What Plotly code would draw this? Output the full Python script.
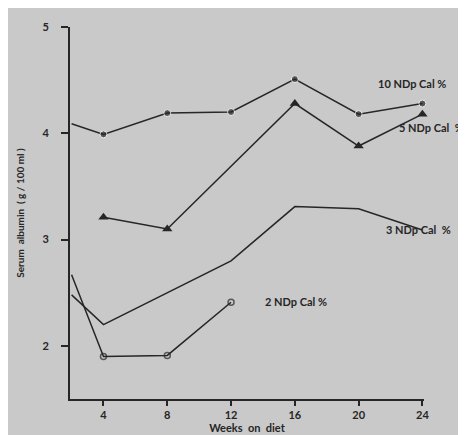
import plotly.graph_objects as go

weeks_10 = [2, 4, 8, 12, 16, 20, 24]
alb_10 = [4.09, 3.99, 4.19, 4.20, 4.51, 4.18, 4.28]

weeks_5 = [4, 8, 16, 20, 24]
alb_5 = [3.21, 3.10, 4.28, 3.88, 4.18]

weeks_3 = [2, 4, 12, 16, 20, 24]
alb_3 = [2.48, 2.20, 2.80, 3.31, 3.29, 3.09]

weeks_2 = [2, 4, 8, 12]
alb_2 = [2.67, 1.90, 1.91, 2.41]

x_ticks = [4, 8, 12, 16, 20, 24]
y_ticks = [2, 3, 4, 5]

labels = ["10 NDp Cal %", "5 NDp Cal  %", "3 NDp Cal  %", "2 NDp Cal %"]

INK = "#262626"
BG = "#c9c9c9"
FONT = "Lato, 'DejaVu Sans', sans-serif"

fig = go.Figure()

fig.add_trace(go.Scatter(
    x=weeks_10, y=alb_10, mode="lines+markers",
    line=dict(color=INK, width=1.5),
    marker=dict(symbol="circle", size=[0] + [7] * (len(weeks_10) - 1), color=INK),
    showlegend=False, cliponaxis=False))
fig.add_trace(go.Scatter(
    x=weeks_5, y=alb_5, mode="lines+markers",
    line=dict(color=INK, width=1.5),
    marker=dict(symbol="triangle-up", size=9, color=INK),
    showlegend=False, cliponaxis=False))
fig.add_trace(go.Scatter(
    x=weeks_3, y=alb_3, mode="lines",
    line=dict(color=INK, width=1.5),
    showlegend=False, cliponaxis=False))
fig.add_trace(go.Scatter(
    x=weeks_2, y=alb_2, mode="lines+markers",
    line=dict(color=INK, width=1.5),
    marker=dict(symbol="circle-open", size=[0] + [6] * (len(weeks_2) - 1),
                color=INK, line=dict(width=1.5, color=INK)),
    showlegend=False, cliponaxis=False))

# series labels (paper coordinates)
label_pos = [(404, 74), (423, 120), (410, 226), (288, 300)]
for text, (px, py) in zip(labels, label_pos):
    fig.add_annotation(text=text, xref="paper", yref="paper",
                       x=(px - 62) / 354, y=1 - (py - 16) / 385,
                       showarrow=False, xanchor="center", yanchor="middle",
                       font=dict(family=FONT, size=11, color=INK, weight=700))

fig.update_layout(
    width=466, height=435,
    margin=dict(l=62, r=50, t=16, b=34),
    paper_bgcolor=BG, plot_bgcolor=BG,
    font=dict(family=FONT, color=INK),
    xaxis=dict(range=[1.9, 24.1], tickvals=x_ticks,
               ticktext=[str(v) for v in x_ticks],
               showgrid=False, zeroline=False,
               showline=True, linecolor=INK, linewidth=1.8,
               ticks="outside", ticklen=5, tickwidth=1.6, tickcolor=INK,
               tickfont=dict(family=FONT, size=11, color=INK, weight=700),
               title=dict(text="Weeks  on  diet", standoff=2,
                          font=dict(family=FONT, size=11, color=INK, weight=700))),
    yaxis=dict(range=[1.5, 5.0], tickvals=y_ticks,
               ticktext=[str(v) for v in y_ticks],
               showgrid=False, zeroline=False,
               showline=True, linecolor=INK, linewidth=1.8,
               ticks="outside", ticklen=7, tickwidth=1.6, tickcolor=INK,
               ticklabelstandoff=10,
               tickfont=dict(family=FONT, size=11, color=INK, weight=700),
               title=dict(text="Serum  albumin  ( g / 100 ml )", standoff=16,
                          font=dict(family=FONT, size=10, color=INK, weight=700))),
)

fig.write_html("out.html")
